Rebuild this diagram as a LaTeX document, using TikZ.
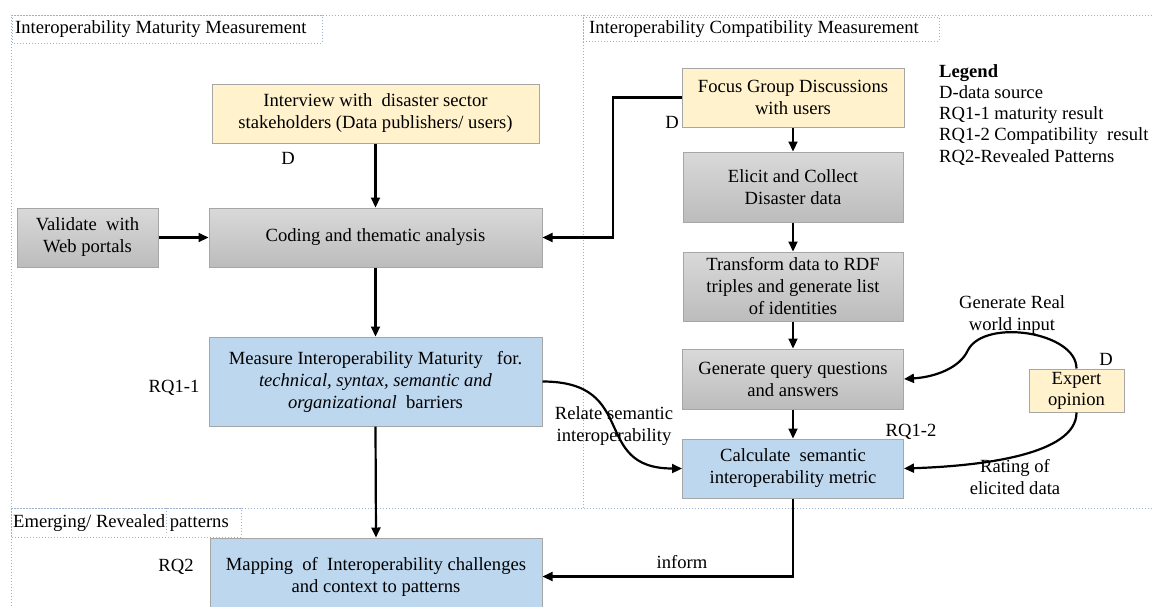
\documentclass[tikz,border=0pt]{standalone}
\usepackage{fontspec}
\setmainfont{Liberation Serif}
\usetikzlibrary{arrows.meta}
\definecolor{yel}{HTML}{FFF2CC}
\definecolor{blu}{HTML}{BDD7EE}
\definecolor{bord}{HTML}{A6A6A6}
\definecolor{frm}{HTML}{9BB0CB}
\definecolor{gtop}{HTML}{D9D9D9}
\definecolor{gbot}{HTML}{BCBCBC}
\newcommand\myfs{\fontsize{18.6}{22}\selectfont}
\tikzset{
  base/.style={draw=bord, line width=1pt, align=center, inner sep=2pt, font=\myfs},
  ybox/.style={base, fill=yel},
  bbox/.style={base, fill=blu},
  gbox/.style={base, top color=gtop, bottom color=gbot},
  arr/.style={line width=2.2pt, -{Triangle[length=10pt,width=9pt]}},
  frame/.style={draw=frm, line width=1pt, dotted},
  lbl/.style={font=\myfs, inner sep=0pt, align=center},
}
\begin{document}
\begin{tikzpicture}[x=1pt,y=-1pt]
\useasboundingbox (0,0) rectangle (1152,606);
\clip (0,0) rectangle (1152,606);
\fill[white] (0,0) rectangle (1152,606);

% frames
\draw[frame] (11,606) -- (11,15) -- (1152,15);
\draw[frame] (583,15) -- (583,509);
\draw[frame] (11,508.5) -- (1152,508.5);
\draw[frame] (12,15) rectangle (322,43);
\draw[frame] (583,17) rectangle (939,41);
\draw[frame] (11,508) rectangle (241,537);
\draw[frame] (166,508) -- (166,535);
\node[lbl, anchor=west] (t1) at (15,29) {Interoperability Maturity Measurement};
\node[lbl, anchor=west] (t2) at (589,29) {Interoperability Compatibility Measurement};
\node[lbl, anchor=west] (t3) at (13,523) {Emerging/ Revealed patterns};

% left column
\node[ybox, minimum width=327pt, minimum height=59pt] (interview) at (375.5,113.5)
  {Interview with~ disaster sector\\stakeholders (Data publishers/ users)};
\node[gbox, minimum width=141pt, minimum height=59pt] (validate) at (87.5,237.5)
  {Validate~ with\\Web portals};
\node[gbox, minimum width=333pt, minimum height=59pt] (coding) at (375.5,237.5)
  {Coding and thematic analysis};
\node[bbox, minimum width=333pt, minimum height=89pt] (measure) at (375.5,381.5)
  {Measure Interoperability Maturity~~ for.\\\textit{technical, syntax, semantic and}\\\textit{organizational}~ barriers};
\node[bbox, minimum width=332pt, minimum height=77pt] (mapping) at (376,576.5)
  {Mapping~ of~ Interoperability challenges\\and context to patterns};

% right column
\node[ybox, minimum width=222pt, minimum height=59pt] (focus) at (793,97.5)
  {Focus Group Discussions\\with users};
\node[gbox, minimum width=220pt, minimum height=70pt] (elicit) at (793,187)
  {Elicit and Collect\\Disaster data};
\node[gbox, minimum width=220pt, minimum height=69pt] (transform) at (793,286.5)
  {Transform data to RDF\\triples and generate list\\of identities};
\node[gbox, minimum width=221pt, minimum height=60pt] (genq) at (793,379)
  {Generate query questions\\and answers};
\node[bbox, minimum width=221pt, minimum height=59pt] (calc) at (793,468.5)
  {Calculate~ semantic\\interoperability metric};
\node[ybox, minimum width=95pt, minimum height=43pt, inner sep=0pt,
  font=\fontsize{18.6}{21}\selectfont] (expert) at (1076.5,390.5)
  {Expert\\opinion};

% labels
\node[lbl] (d1) at (288,158) {D};
\node[lbl] (d2) at (672,122) {D};
\node[lbl] (d3) at (1106,359) {D};
\node[lbl] (rq11) at (174,388) {RQ1-1};
\node[lbl] (rq12) at (911,432) {RQ1-2};
\node[lbl] (rq2) at (176,567) {RQ2};
\node[lbl] (gen) at (1012,315) {Generate Real\\world input};
\node[lbl] (rate) at (1015,477) {Rating of\\elicited data};
\node[lbl] (rel) at (614,426) {Relate semantic\\interoperability};
\node[lbl] (inf) at (682,562) {inform};

% legend
\node[lbl, anchor=base west] (lg0) at (939,77) {\textbf{Legend}};
\node[lbl, anchor=base west] (lg1) at (939,98.3) {D-data source};
\node[lbl, anchor=base west] (lg2) at (939,119.6) {RQ1-1 maturity result};
\node[lbl, anchor=base west] (lg3) at (939,140.9) {RQ1-2 Compatibility~ result};
\node[lbl, anchor=base west] (lg4) at (939,162.2) {RQ2-Revealed Patterns};

% connectors
\coordinate (fbend) at (613,237.5);
\draw[arr] (interview.south) -- (coding.north);
\draw[arr] (validate.east) -- (coding.west);
\draw[arr] (focus.west) -| (fbend) -- (coding.east);
\draw[arr] (coding.south) -- (measure.north);
\draw[arr] (measure.south) -- (mapping.north);
\draw[arr] (focus.south) -- (elicit.north);
\draw[arr] (elicit.south) -- (transform.north);
\draw[arr] (transform.south) -- (genq.north);
\draw[arr] (genq.south) -- (calc.north);
\draw[arr] (calc.south) |- (mapping.east);
\draw[arr] (measure.east) .. controls (640,381.5) and (590,468.5) .. (calc.west);
\draw[arr] (expert.north) .. controls (1076.5,332) and (985,318) .. (968,350)
  .. controls (960,368) and (935,377) .. (genq.east);
\draw[arr] (expert.south) .. controls (1076.5,455) and (980,466) .. (calc.east);
\end{tikzpicture}
\end{document}
